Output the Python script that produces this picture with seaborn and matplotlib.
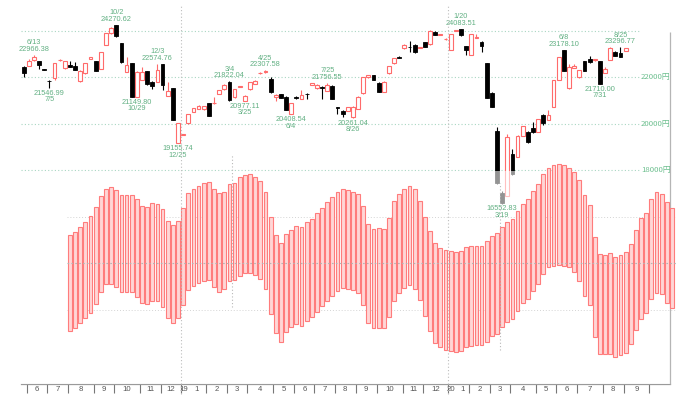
import numpy as np
import pandas as pd
import matplotlib
matplotlib.use("Agg")
import matplotlib.pyplot as plt
import seaborn as sns

# ---------------- data (weekly candles, index 0 = week of 2018-05-28) ----------------
opens = [22460, 22490, 22750, 22705, 22350, 21860, 21960, 22740, 22390, 22530,
         22500, 21840, 22175, 22790, 22705, 22360, 23396, 23900, 24260, 23470,
         22245, 22605, 21165, 21885, 22275, 21810, 21810, 22560, 21195, 21527,
         19156, 19530, 20016, 20517, 20633, 20620, 20880, 20880, 21280, 21480,
         21810, 21140, 21590, 20980, 21480, 21710, 22190, 22220, 21930, 21140,
         21280, 21165, 20420, 21130, 21065, 21290, 21690, 21530, 21590, 21425,
         21625, 20720, 20560, 20560, 20275, 20635, 21310, 22000, 22100, 21770,
         21380, 22175, 22605, 22880, 23250, 23320, 23400, 23280, 23510, 23425,
         23957, 23830, 23650, 23180, 24000, 24070, 23350, 22964, 23710, 23540,
         22605, 21335, 19700, 17020, 16880, 18690, 18575, 19480, 19655, 19800,
         19655, 20375, 20159, 20735, 21885, 23170, 21527, 22420, 22000, 22705,
         22790, 22740, 22705, 22200, 22750, 23105, 23040, 23150]
highs = [22480, 22790, 22966.38, 22720, 22380, 21870, 22620, 22800, 22720, 22720,
         22650, 22300, 22620, 22880, 22720, 23090, 23920, 24185, 24270.62, 23480,
         22865, 22620, 22260, 22460, 22290, 21830, 22574.76, 22565, 21810, 21540,
         20030, 19570, 20420, 20690, 20800, 20780, 20900, 21140, 21470, 21700,
         21822.04, 21500, 21640, 21230, 21800, 21880, 22230, 22307.58, 22000, 21260,
         21300, 21180, 20900, 21200, 21454, 21340, 21750, 21700, 21610, 21756.55,
         21650, 20740, 20600, 20740, 20760, 21180, 22010, 22120, 22120, 21790,
         21830, 22510, 22840, 22900, 23420, 23550, 23420, 23320, 23530, 24030,
         23980, 23870, 23690, 23880, 24060, 24083.51, 23370, 23870, 23860, 23560,
         22620, 21350, 19870, 17100, 19555, 18895, 19500, 19920, 19680, 20085,
         20220, 20400, 20600, 21900, 22880, 23178.10, 22560, 22580, 22330, 22720,
         22920, 22800, 22720, 22460, 23290, 23120, 23296.77, 23260]
lows = [22000, 22470, 22700, 22370, 22300, 21546.99, 21900, 22720, 22370, 22430,
        22300, 21820, 22160, 22780, 22270, 22340, 23380, 23880, 23760, 22605,
        22230, 21160, 21149.80, 21870, 21690, 21480, 21790, 21454, 21180, 20140,
        19155.74, 19520, 20000, 20500, 20620, 20600, 20310, 20860, 21260, 21460,
        21000, 21120, 21570, 20977.11, 21470, 21700, 22150, 22200, 21340, 21000,
        21100, 20570, 20408.54, 21050, 21050, 21050, 21670, 21510, 21050, 21410,
        21050, 20400, 20300, 20540, 20261.04, 20620, 21290, 21980, 21870, 21360,
        21360, 22160, 22590, 22840, 23240, 23080, 23060, 23250, 23300, 23410,
        23810, 23810, 23630, 23160, 23980, 23800, 22977, 22950, 23700, 23100,
        21100, 20710, 17400, 16552.83, 16860, 17800, 18560, 19460, 19180, 19610,
        19640, 19950, 20140, 20720, 21870, 22270, 21510, 22400, 21980, 22270,
        22600, 22720, 21710.00, 22180, 22730, 22900, 22880, 23140]
closes = [22175, 22705, 22865, 22530, 22320, 21840, 22605, 22760, 22705, 22445,
          22317, 22285, 22605, 22865, 22285, 23080, 23900, 24115, 23785, 22675,
          22533, 21165, 22245, 22245, 21700, 21625, 22317, 21670, 21410, 20159,
          20016, 19560, 20405, 20662, 20763, 20763, 20331, 20905, 21454, 21669,
          21022, 21480, 21627, 21210, 21785, 21855, 22200, 22258, 21355, 21238,
          21120, 20590, 20880, 21116, 21238, 21275, 21746, 21669, 21560, 21669,
          21065, 20680, 20420, 20710, 20733, 21165, 22000, 22100, 21885, 21380,
          21810, 22500, 22820, 22850, 23396, 23300, 23080, 23300, 23320, 24013,
          23827, 23860, 23670, 23870, 24041, 23827, 23180, 23857, 23720, 23365,
          21120, 20730, 17430, 16560, 19410, 17830, 19480, 19900, 19222, 19630,
          20200, 20016, 20375, 21885, 22865, 22285, 22460, 22500, 22317, 22285,
          22675, 22780, 21710, 22345, 23280, 22920, 22890, 23250]

# cycle oscillator bars (from week index 9 to 126), values relative to its centre line
osc_start = 9
osc_top = [28, 31, 36, 41, 47, 56, 67, 74, 76, 73, 68, 68, 68, 64, 57, 56, 60, 59, 54, 42,
           38, 42, 55, 70, 74, 77, 80, 81, 74, 70, 71, 79, 80, 86, 88, 89, 86, 82, 71, 46,
           28, 20, 29, 33, 37, 36, 41, 44, 50, 55, 61, 66, 71, 74, 73, 71, 69, 57, 39, 34,
           35, 34, 45, 62, 69, 74, 77, 74, 62, 46, 32, 20, 15, 13, 12, 11, 12, 16, 17, 17,
           17, 22, 27, 30, 36, 41, 44, 52, 59, 64, 72, 79, 89, 95, 98, 99, 98, 95, 91, 83,
           68, 58, 26, 9, 8, 10, 6, 8, 11, 19, 33, 45, 50, 64, 71, 69, 61, 55]
osc_bottom = [-68, -65, -60, -55, -50, -41, -29, -21, -21, -24, -29, -29, -29, -34, -40, -41, -38, -38, -44, -55,
              -60, -55, -42, -27, -23, -20, -18, -17, -24, -29, -26, -18, -17, -13, -10, -10, -12, -16, -26, -51,
              -70, -79, -69, -64, -61, -63, -58, -54, -49, -43, -38, -33, -28, -25, -26, -27, -30, -42, -60, -65,
              -65, -65, -54, -38, -30, -25, -22, -26, -37, -53, -68, -80, -84, -87, -88, -89, -88, -84, -83, -82,
              -82, -79, -73, -71, -64, -59, -56, -48, -40, -36, -28, -21, -11, -4, -3, -2, -3, -4, -9, -18,
              -33, -42, -74, -91, -91, -91, -94, -92, -90, -81, -67, -56, -50, -36, -30, -31, -40, -45]

# annotated extremes: week index, which extreme, date text
ann_idx = [2, 5, 18, 22, 26, 30, 40, 43, 47, 52, 59, 64, 85, 93, 105, 112, 116]
ann_kind = ["H", "L", "H", "L", "H", "L", "H", "L", "H", "L", "H", "L", "H", "L", "H", "L", "H"]
ann_date = ["6/13", "7/5", "10/2", "10/29", "12/3", "12/25", "3/4", "3/25", "4/25", "6/4",
            "7/25", "8/26", "1/20", "3/19", "6/8", "7/31", "8/25"]

# price grid and month ticks (fractional week positions of each month start)
price_grid = [24000, 22000, 20000, 18000]
price_labels = ["", "22000円", "20000円", "18000円"]
month_ticks = [0.6, 4.6, 8.7, 13.6, 17.6, 22.6, 26.6, 30.5, 35.4, 39.5, 43.5, 48.5, 52.6, 56.5,
               60.5, 64.5, 68.6, 73.7, 77.7, 82.5, 86.6, 90.6, 94.5, 99.6, 103.5, 107.5,
               112.6, 116.6, 121.6]
month_names = ["6", "7", "8", "9", "10", "11", "12", "1", "2", "3", "4", "5", "6", "7",
               "8", "9", "10", "11", "12", "1", "2", "3", "4", "5", "6", "7", "8", "9"]
year_marks = [30.5, 82.5]
year_names = ["19", "20"]

# ---------------- layout helpers ----------------
W, H = 689, 399
X0, DX = 23.65, 5.145           # pixel x of week 0, pixels per week
PY0, PPX = 31.0, 43.16          # pixel y of 24000, yen per pixel
OSC_Y0 = 263.0                  # pixel y of oscillator centre

def px_to_i(px):
    return (px - X0) / DX

def py_to_price(py):
    return 24000 - (py - PY0) * PPX

def py_to_osc(py):
    return OSC_Y0 - py

ax_left_px, ax_right_px, ax_top_px, ax_bot_px = 20.7, 670.0, 0.0, 384.0

sns.set_theme(style="white")
plt.rcParams["font.family"] = ["Liberation Sans", "DejaVu Sans"]

fig = plt.figure(figsize=(W / 100, H / 100), dpi=100)
pos = [ax_left_px / W, (H - ax_bot_px) / H, (ax_right_px - ax_left_px) / W, (ax_bot_px - ax_top_px) / H]
ax = fig.add_axes(pos)
ax2 = fig.add_axes(pos)
ax2.patch.set_visible(False)

xlim = (px_to_i(ax_left_px), px_to_i(ax_right_px))
ax.set_xlim(*xlim)
ax.set_ylim(py_to_price(ax_bot_px), py_to_price(ax_top_px))

# ---------------- price panel ----------------
grid_c = "#a9d6c2"
for p in price_grid:
    ax.hlines(p, xlim[0], px_to_i(640), colors=grid_c, linestyles=(0, (1, 2)), linewidth=0.8, zorder=1)
for p, lab in zip(price_grid, price_labels):
    if lab:
        ax.text(px_to_i(641), p, lab, fontsize=5.6, color="#6cbf8e", va="center", ha="left",
                family=["Noto Sans CJK JP", "DejaVu Sans"], zorder=10)

n = len(opens)
idx = np.arange(n)
o = np.array(opens, float); c = np.array(closes, float)
hi = np.array(highs, float); lo = np.array(lows, float)
up = c >= o
up_c, dn_c = "#ff6b6b", "#000000"
body_w = 0.74
ax.vlines(idx[up], lo[up], hi[up], colors=up_c, linewidth=0.8, zorder=2)
ax.vlines(idx[~up], lo[~up], hi[~up], colors=dn_c, linewidth=0.8, zorder=2)
bh = np.abs(c - o)
bh = np.maximum(bh, 8)
ax.bar(idx[up], bh[up], bottom=np.minimum(o, c)[up], width=body_w, facecolor="white",
       edgecolor=up_c, linewidth=0.8, zorder=3)
ax.bar(idx[~up], bh[~up], bottom=np.minimum(o, c)[~up], width=body_w, facecolor=dn_c,
       edgecolor=dn_c, linewidth=0.6, zorder=3)

# fade the part of the price panel that lies in the oscillator panel
ax.axhspan(py_to_price(ax_bot_px), py_to_price(170.6), color="white", alpha=0.58, lw=0, zorder=5)

# annotations
ann_c = "#62b083"
for i, k, d in zip(ann_idx, ann_kind, ann_date):
    if k == "H":
        val = highs[i]
        ax.annotate(f"{val:.2f}", (i, val), xytext=(0, 5.6), textcoords="offset pixels",
                    ha="center", va="center", fontsize=5.3, color=ann_c, zorder=12)
        ax.annotate(d, (i, val), xytext=(0, 12.2), textcoords="offset pixels",
                    ha="center", va="center", fontsize=5.3, color=ann_c, zorder=12)
    else:
        val = lows[i]
        ax.annotate(f"{val:.2f}", (i, val), xytext=(0, -5.4), textcoords="offset pixels",
                    ha="center", va="center", fontsize=5.3, color=ann_c, zorder=12)
        ax.annotate(d, (i, val), xytext=(0, -11.8), textcoords="offset pixels",
                    ha="center", va="center", fontsize=5.3, color=ann_c, zorder=12)

# right border
ax.vlines(xlim[1], py_to_price(ax_bot_px), py_to_price(32), colors="#b5b5b5", linewidth=0.9,
          clip_on=False, zorder=6)

# ---------------- oscillator panel ----------------
ax2.set_xlim(*xlim)
ax2.set_ylim(py_to_osc(ax_bot_px), py_to_osc(ax_top_px))
osc_idx = np.arange(osc_start, osc_start + len(osc_top))
osc_df = pd.DataFrame({"week": osc_idx,
                       "span": np.array(osc_top, float) - np.array(osc_bottom, float),
                       "bottom": np.array(osc_bottom, float)})
ax2.hlines([py_to_osc(217), py_to_osc(310)], px_to_i(66.7), px_to_i(675.7), colors="#d4d4d4",
           linestyles=(0, (1, 2)), linewidth=0.7, zorder=1, clip_on=False)
sns.barplot(data=osc_df, x="week", y="span", native_scale=True, width=0.74, errorbar=None,
            color="#ffd6d6", saturation=1,
            bottom=osc_df["bottom"].values, facecolor="#ffd6d6", edgecolor="#ff7c7c",
            linewidth=0.8, ax=ax2, zorder=2, clip_on=False)
ax2.hlines(0, px_to_i(66.7), px_to_i(675.7), colors="#b4b4b4", linestyles=(0, (1.5, 2)),
           linewidth=0.8, zorder=3, clip_on=False)
ax2.vlines(px_to_i(232.3), py_to_osc(307), py_to_osc(155), colors="#b8b8b8",
           linestyles=(0, (1, 2)), linewidth=0.8, zorder=3)
ax2.vlines(px_to_i(499.7), py_to_osc(350), py_to_osc(183), colors="#b8b8b8",
           linestyles=(0, (1, 2)), linewidth=0.8, zorder=3)
for ym in year_marks:
    ax2.vlines(ym, py_to_osc(394), py_to_osc(5), colors="#bdbdbd", linestyles=(0, (1, 2)),
               linewidth=0.8, zorder=3, clip_on=False)
ax2.set_xlim(*xlim)
ax2.set_ylim(py_to_osc(ax_bot_px), py_to_osc(ax_top_px))
ax2.axis("off")

# ---------------- x axis ----------------
for s in ["top", "right", "left"]:
    ax.spines[s].set_visible(False)
ax.spines["bottom"].set_color("#9a9a9a")
ax.spines["bottom"].set_linewidth(0.9)
ax.set_yticks([])
ax.set_xticks(month_ticks)
ax.set_xticklabels([])
ax.tick_params(axis="x", which="major", direction="out", length=6.3, width=0.8, color="#777777",
               bottom=True)
mids = [(a + b) / 2 for a, b in zip(month_ticks[:-1], month_ticks[1:])]
lab_pos, lab_txt = [], []
for k, (m, name) in enumerate(zip(mids, month_names)):
    if month_ticks[k] in year_marks:
        yi = year_marks.index(month_ticks[k])
        lab_pos.append(month_ticks[k] + 0.62)
        lab_txt.append(year_names[yi])
        lab_pos.append(m + 0.7)
        lab_txt.append(name)
    else:
        lab_pos.append(m)
        lab_txt.append(name)
ax.set_xticks(lab_pos, minor=True)
ax.set_xticklabels(lab_txt, minor=True)
ax.tick_params(axis="x", which="minor", length=0, pad=1.2, labelsize=5.6, labelcolor="#555555")
ax.set_xlabel("")
ax.set_ylabel("")

fig.savefig("out.png", dpi=100)
